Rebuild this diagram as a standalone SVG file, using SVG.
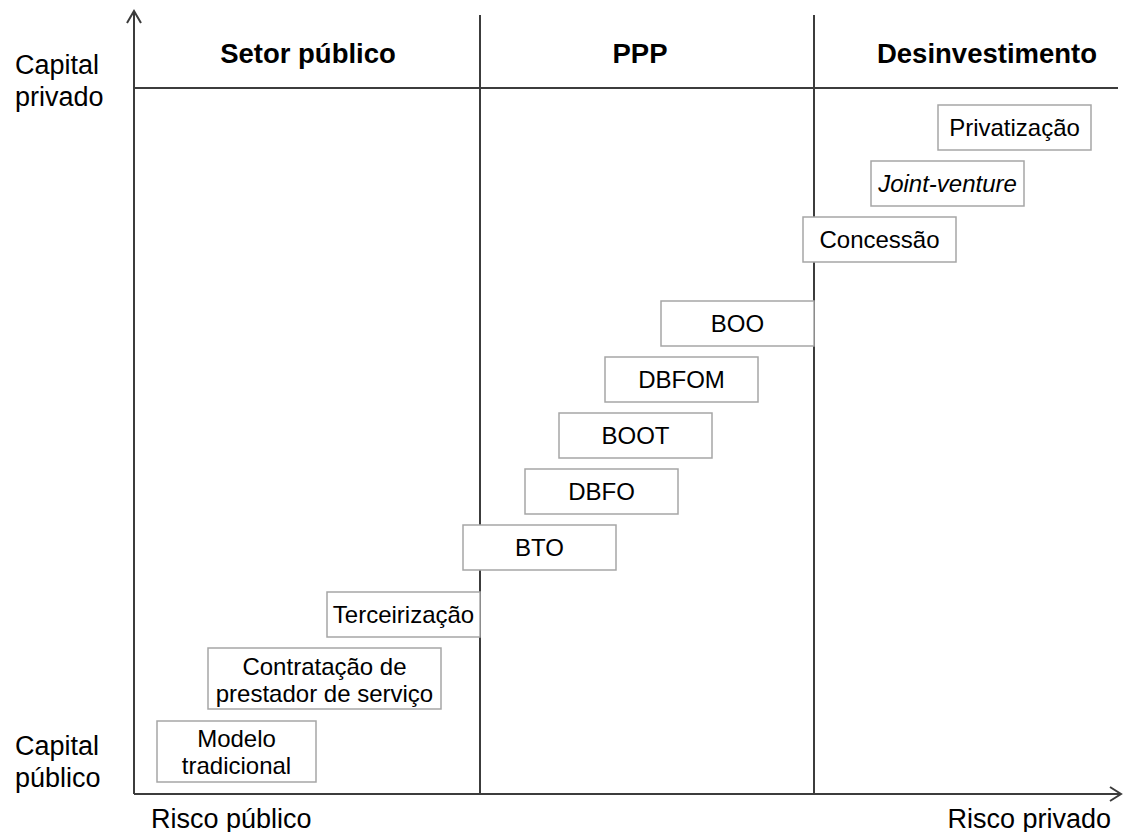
<svg xmlns="http://www.w3.org/2000/svg" width="1124" height="832" viewBox="0 0 1124 832">
<style>
.ax{stroke:#3c3c3c;stroke-width:2;fill:none}
.bx{fill:#fff;stroke:#a6a6a6;stroke-width:1.5}
.t{font-family:"Liberation Sans",Arial,sans-serif;font-size:24px;fill:#000;text-anchor:middle}
.h{font-family:"Liberation Sans",Arial,sans-serif;font-size:27.5px;font-weight:bold;fill:#000;text-anchor:middle}
.l{font-family:"Liberation Sans",Arial,sans-serif;font-size:27px;fill:#000}
</style>
<rect width="1124" height="832" fill="#fff"/>
<g id="axes">
<line class="ax" x1="134" y1="794" x2="134" y2="11"/>
<polyline class="ax" points="127,23 134,11 141,23"/>
<line class="ax" x1="134" y1="794" x2="1120" y2="794"/>
<polyline class="ax" points="1110,787 1121,794 1110,801"/>
<line class="ax" x1="134" y1="88" x2="1118" y2="88"/>
<line class="ax" x1="480" y1="15" x2="480" y2="794"/>
<line class="ax" x1="814" y1="15" x2="814" y2="794"/>
</g>
<g id="labels">
<text class="h" x="308" y="63">Setor público</text>
<text class="h" x="640" y="63">PPP</text>
<text class="h" x="987" y="63">Desinvestimento</text>
<text class="l" x="15" y="74">Capital</text>
<text class="l" x="15" y="106">privado</text>
<text class="l" x="15" y="755">Capital</text>
<text class="l" x="15" y="787">público</text>
<text class="l" x="151" y="828">Risco público</text>
<text class="l" x="1111" y="828" text-anchor="end">Risco privado</text>
</g>
<g id="n-privatizacao"><rect class="bx" x="938" y="105" width="153" height="45"/><text class="t" x="1014.5" y="136">Privatização</text></g>
<g id="n-jointventure"><rect class="bx" x="871" y="161" width="153" height="45"/><text class="t" x="947.5" y="192" font-style="italic">Joint-venture</text></g>
<g id="n-concessao"><rect class="bx" x="803" y="217" width="153" height="45"/><text class="t" x="879.5" y="248">Concessão</text></g>
<g id="n-boo"><rect class="bx" x="661" y="301" width="153" height="45"/><text class="t" x="737.5" y="332">BOO</text></g>
<g id="n-dbfom"><rect class="bx" x="605" y="357" width="153" height="45"/><text class="t" x="681.5" y="388">DBFOM</text></g>
<g id="n-boot"><rect class="bx" x="559" y="413" width="153" height="45"/><text class="t" x="635.5" y="444">BOOT</text></g>
<g id="n-dbfo"><rect class="bx" x="525" y="469" width="153" height="45"/><text class="t" x="601.5" y="500">DBFO</text></g>
<g id="n-bto"><rect class="bx" x="463" y="525" width="153" height="45"/><text class="t" x="539.5" y="556">BTO</text></g>
<g id="n-terceirizacao"><rect class="bx" x="327" y="592" width="153" height="45"/><text class="t" x="403.5" y="623">Terceirização</text></g>
<g id="n-contratacao"><rect class="bx" x="208" y="648" width="233" height="61"/><text class="t" x="324.5" y="675">Contratação de</text><text class="t" x="324.5" y="702">prestador de serviço</text></g>
<g id="n-modelo"><rect class="bx" x="157" y="721" width="159" height="61"/><text class="t" x="236.5" y="747">Modelo</text><text class="t" x="236.5" y="774">tradicional</text></g>
</svg>
